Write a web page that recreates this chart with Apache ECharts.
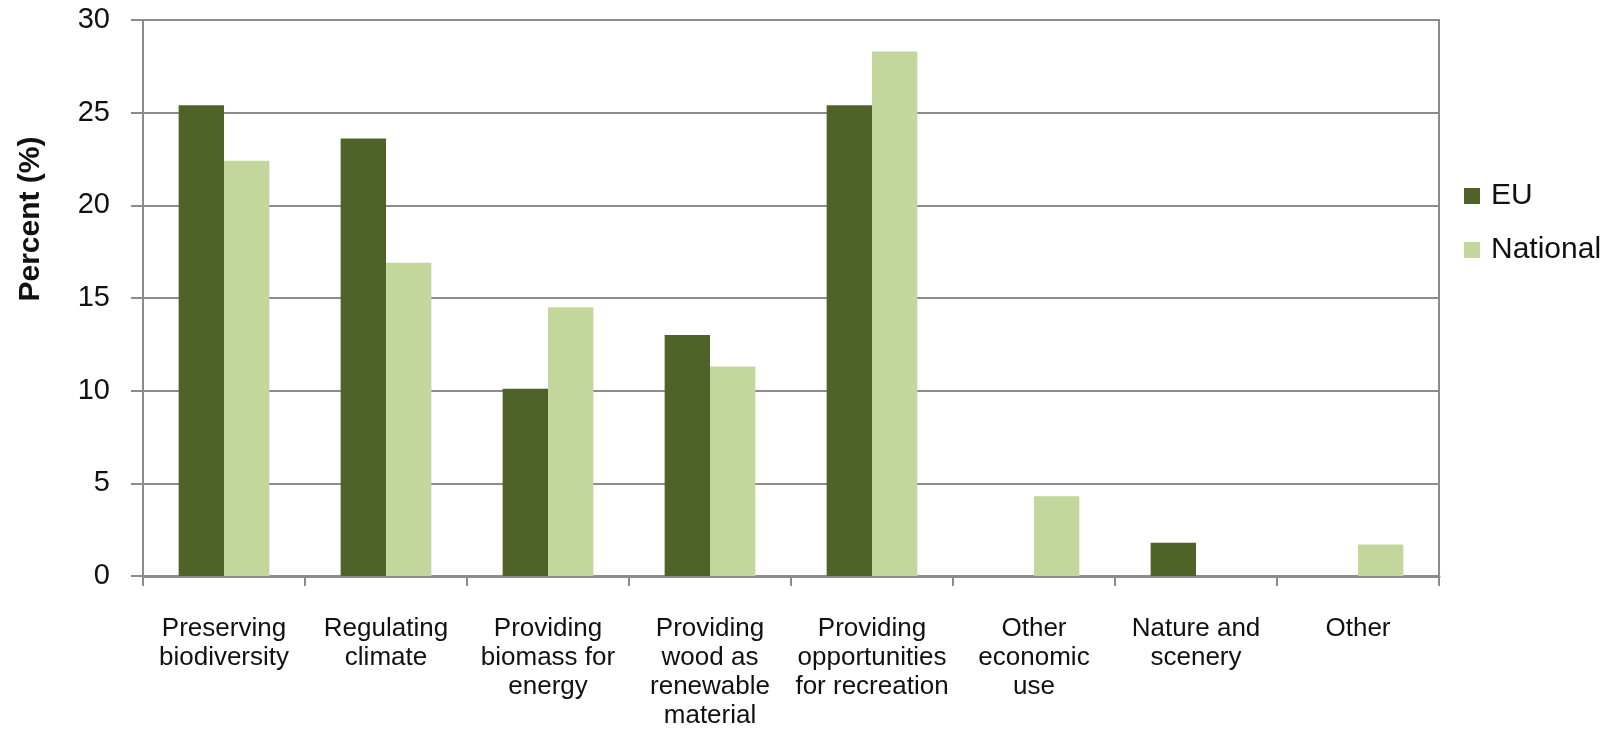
<!DOCTYPE html>
<html>
<head>
<meta charset="utf-8">
<script src="https://cdn.jsdelivr.net/npm/echarts@6/dist/echarts.min.js"></script>
<style>html,body{margin:0;padding:0;background:#fff;}#c{width:1619px;height:733px;}</style>
</head>
<body>
<div id="c"></div>
<script>
const categories = ["Preserving\nbiodiversity", "Regulating\nclimate", "Providing\nbiomass for\nenergy", "Providing\nwood as\nrenewable\nmaterial", "Providing\nopportunities\nfor recreation", "Other\neconomic\nuse", "Nature and\nscenery", "Other"];
const euValues = [25.4, 23.6, 10.1, 13.0, 25.4, 0, 1.8, 0];
const nationalValues = [22.4, 16.9, 14.5, 11.3, 28.3, 4.3, 0, 1.7];
const yTicks = {min: 0, max: 30, interval: 5};

const FONT = "'Liberation Sans', Arial, Helvetica, sans-serif";
const chart = echarts.init(document.getElementById('c'), null, {renderer: 'canvas'});
chart.setOption({
  animation: false,
  backgroundColor: '#ffffff',
  textStyle: {fontFamily: FONT},
  grid: {left: 143, right: 180, top: 20, bottom: 157, show: true, borderColor: '#8c8c8c', borderWidth: 2, backgroundColor: 'transparent'},
  legend: {
    orient: 'vertical', left: 1459, top: 175, itemGap: 22,
    icon: 'rect', itemWidth: 16, itemHeight: 16,
    textStyle: {fontFamily: FONT, fontSize: 30, color: '#111', lineHeight: 32, padding: [0, 0, 0, 6]},
    data: ['EU', 'National']
  },
  xAxis: {
    type: 'category', data: categories,
    axisLine: {show: true, lineStyle: {color: '#8c8c8c', width: 3}},
    axisTick: {show: true, length: 10, lineStyle: {color: '#8c8c8c', width: 2}},
    axisLabel: {interval: 0, margin: 38, fontFamily: FONT, fontSize: 26, lineHeight: 29, color: '#111'},
    splitLine: {show: false}
  },
  yAxis: {
    type: 'value', min: yTicks.min, max: yTicks.max, interval: yTicks.interval,
    axisLine: {show: true, lineStyle: {color: '#8c8c8c', width: 2}},
    axisTick: {show: true, length: 12, lineStyle: {color: '#8c8c8c', width: 2}},
    axisLabel: {margin: 33, fontFamily: FONT, fontSize: 29, color: '#111'},
    splitLine: {show: true, lineStyle: {color: '#8c8c8c', width: 2}}
  },
  graphic: [{
    type: 'text', x: 31, y: 219, rotation: Math.PI / 2,
    style: {text: 'Percent (%)', fontFamily: FONT, fontSize: 30, fontWeight: 'bold', fill: '#111', align: 'center', verticalAlign: 'middle'}
  }],
  series: [
    {name: 'EU', type: 'bar', data: euValues, barGap: '0%', barCategoryGap: '44%', itemStyle: {color: '#4f6228'}},
    {name: 'National', type: 'bar', data: nationalValues, barGap: '0%', barCategoryGap: '44%', itemStyle: {color: '#c3d69b'}}
  ]
});
</script>
</body>
</html>
